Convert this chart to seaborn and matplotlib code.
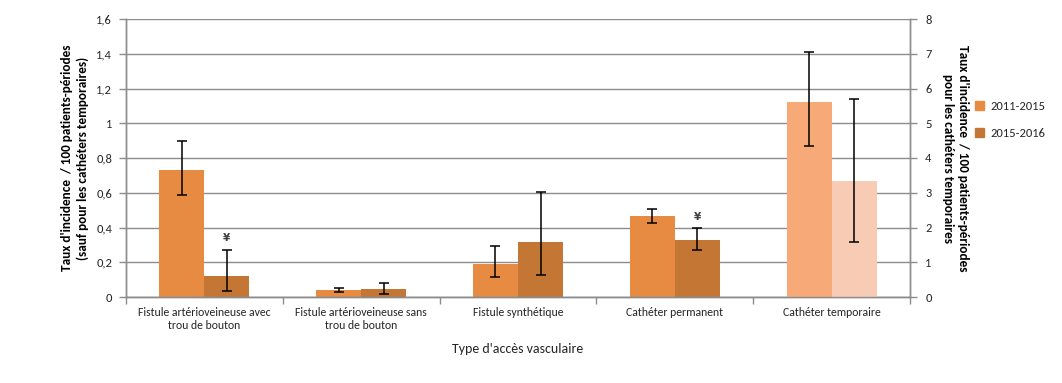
import numpy as np
import pandas as pd
import matplotlib
matplotlib.use("Agg")
import matplotlib.pyplot as plt
from matplotlib.patches import Patch
from matplotlib.container import BarContainer
from matplotlib.ticker import FuncFormatter, FixedLocator
import seaborn as sns

# ---------------- data ----------------
categories = ["Fistule artérioveineuse avec\ntrou de bouton",
              "Fistule artérioveineuse sans\ntrou de bouton",
              "Fistule synthétique",
              "Cathéter permanent",
              "Cathéter temporaire"]
periods = ["2011-2015", "2015-2016"]

# left axis (first four categories)
rate_2011 = [0.73, 0.04, 0.19, 0.465]
low_2011 = [0.585, 0.027, 0.113, 0.424]
high_2011 = [0.90, 0.054, 0.292, 0.505]
rate_2015 = [0.123, 0.046, 0.317, 0.328]
low_2015 = [0.033, 0.016, 0.125, 0.269]
high_2015 = [0.273, 0.082, 0.603, 0.395]
marked_2015 = [True, False, False, True]

# right axis (temporary catheters)
temp_rate = [5.61, 3.34]
temp_low = [4.34, 1.57]
temp_high = [7.06, 5.71]

left_ticks = [0, 0.2, 0.4, 0.6, 0.8, 1.0, 1.2, 1.4, 1.6]
right_ticks = [0, 1, 2, 3, 4, 5, 6, 7, 8]

# ---------------- style ----------------
sns.set_theme(style="white")
plt.rcParams["font.family"] = ["Carlito", "Liberation Sans Narrow", "DejaVu Sans"]

c_main = ["#E88B42", "#C47735"]
c_temp = ["#F7AA78", "#F8CBB4"]
grid_c = "#8C8C8C"
txt_c = "#262626"
fs = 8.5

main_df = pd.DataFrame({
    "cat": categories[:4] * 2,
    "period": [periods[0]] * 4 + [periods[1]] * 4,
    "val": rate_2011 + rate_2015,
})
temp_df = pd.DataFrame({
    "cat": [categories[4]] * 2,
    "period": periods,
    "val": temp_rate,
})

fig = plt.figure(figsize=(10.62, 3.83), dpi=100)
ax = fig.add_axes([126 / 1062, 1 - 297 / 383, (910 - 126) / 1062, (297 - 19) / 383])
ax2 = ax.twinx()

bw = 0.575
sns.barplot(data=main_df, x="cat", y="val", hue="period", order=categories,
            hue_order=periods, palette=c_main, width=bw, errorbar=None,
            saturation=1, ax=ax, legend=False, zorder=2, linewidth=0, gap=0)
sns.barplot(data=temp_df, x="cat", y="val", hue="period", order=categories,
            hue_order=periods, palette=c_temp, width=bw, errorbar=None,
            saturation=1, ax=ax2, legend=False, zorder=2, linewidth=0, gap=0)

# error bars
lows = [low_2011, low_2015]
highs = [high_2011, high_2015]
main_conts = [c for c in ax.containers if isinstance(c, BarContainer)]
temp_conts = [c for c in ax2.containers if isinstance(c, BarContainer)]
for i, cont in enumerate(main_conts):
    for j, bar in enumerate(cont):
        xc = bar.get_x() + bar.get_width() / 2
        h = bar.get_height()
        ax.errorbar(xc, h, yerr=[[h - lows[i][j]], [highs[i][j] - h]],
                    fmt="none", ecolor="black", elinewidth=1.1, capsize=3.5,
                    capthick=1.1, zorder=3)
        if i == 1 and marked_2015[j]:
            ax.text(xc, highs[i][j] + 0.035, "¥", ha="center", va="bottom",
                    fontsize=7.5, fontweight="bold", color="#404040",
                    family=["DejaVu Sans"])
for i, cont in enumerate(temp_conts):
    for bar in cont:
        xc = bar.get_x() + bar.get_width() / 2
        h = bar.get_height()
        ax2.errorbar(xc, h, yerr=[[h - temp_low[i]], [temp_high[i] - h]],
                     fmt="none", ecolor="black", elinewidth=1.1, capsize=3.5,
                     capthick=1.1, zorder=3)

# axes
ax.set_xlim(-0.5, 4.5)
ax.set_ylim(0, 1.6)
ax2.set_ylim(0, 8)
ax.set_yticks(left_ticks)
ax2.set_yticks(right_ticks)
ax.yaxis.set_major_formatter(FuncFormatter(lambda v, p: f"{v:g}".replace(".", ",")))
ax2.yaxis.set_major_formatter(FuncFormatter(lambda v, p: f"{v:g}"))
ax.yaxis.grid(True, color=grid_c, linewidth=1)
ax.set_axisbelow(True)
ax.xaxis.set_minor_locator(FixedLocator(np.arange(-0.5, 5, 1)))
ax.tick_params(axis="x", which="major", length=0, pad=7, labelsize=fs, labelcolor=txt_c)
ax.tick_params(axis="x", which="minor", length=5, color=grid_c, width=1, bottom=True)
ax.tick_params(axis="y", length=5, color=grid_c, width=1, labelsize=fs + 0.5,
               labelcolor=txt_c, left=True, pad=5)
ax2.tick_params(axis="y", length=5, color=grid_c, width=1, labelsize=fs + 0.5,
                labelcolor=txt_c, right=True, pad=6)
for a in (ax, ax2):
    for s in a.spines.values():
        s.set_color(grid_c)
        s.set_linewidth(1)
    a.spines["top"].set_visible(False)

ax.set_xlabel("Type d'accès vasculaire", fontsize=10, color=txt_c, labelpad=9)
ax.set_ylabel("Taux d'incidence  / 100 patients-périodes\n(sauf pour les cathéters temporaires)",
              fontsize=9.5, fontweight="bold", color="black", labelpad=5,
              linespacing=1.35)
ax2.set_ylabel("Taux d'incidence  / 100 patients-périodes\npour les cathéters temporaires",
               fontsize=9.5, fontweight="bold", color="black", rotation=270,
               labelpad=27, linespacing=1.35)

handles = [Patch(color=c_main[0]), Patch(color=c_main[1])]
fig.legend(handles, periods, loc="center left", bbox_to_anchor=(964 / 1062, 1 - 120 / 383),
           frameon=False, fontsize=fs + 0.5, handlelength=0.7, handleheight=0.7,
           handletextpad=0.5, labelspacing=1.3, labelcolor=txt_c)

fig.savefig("out.png", dpi=100)
